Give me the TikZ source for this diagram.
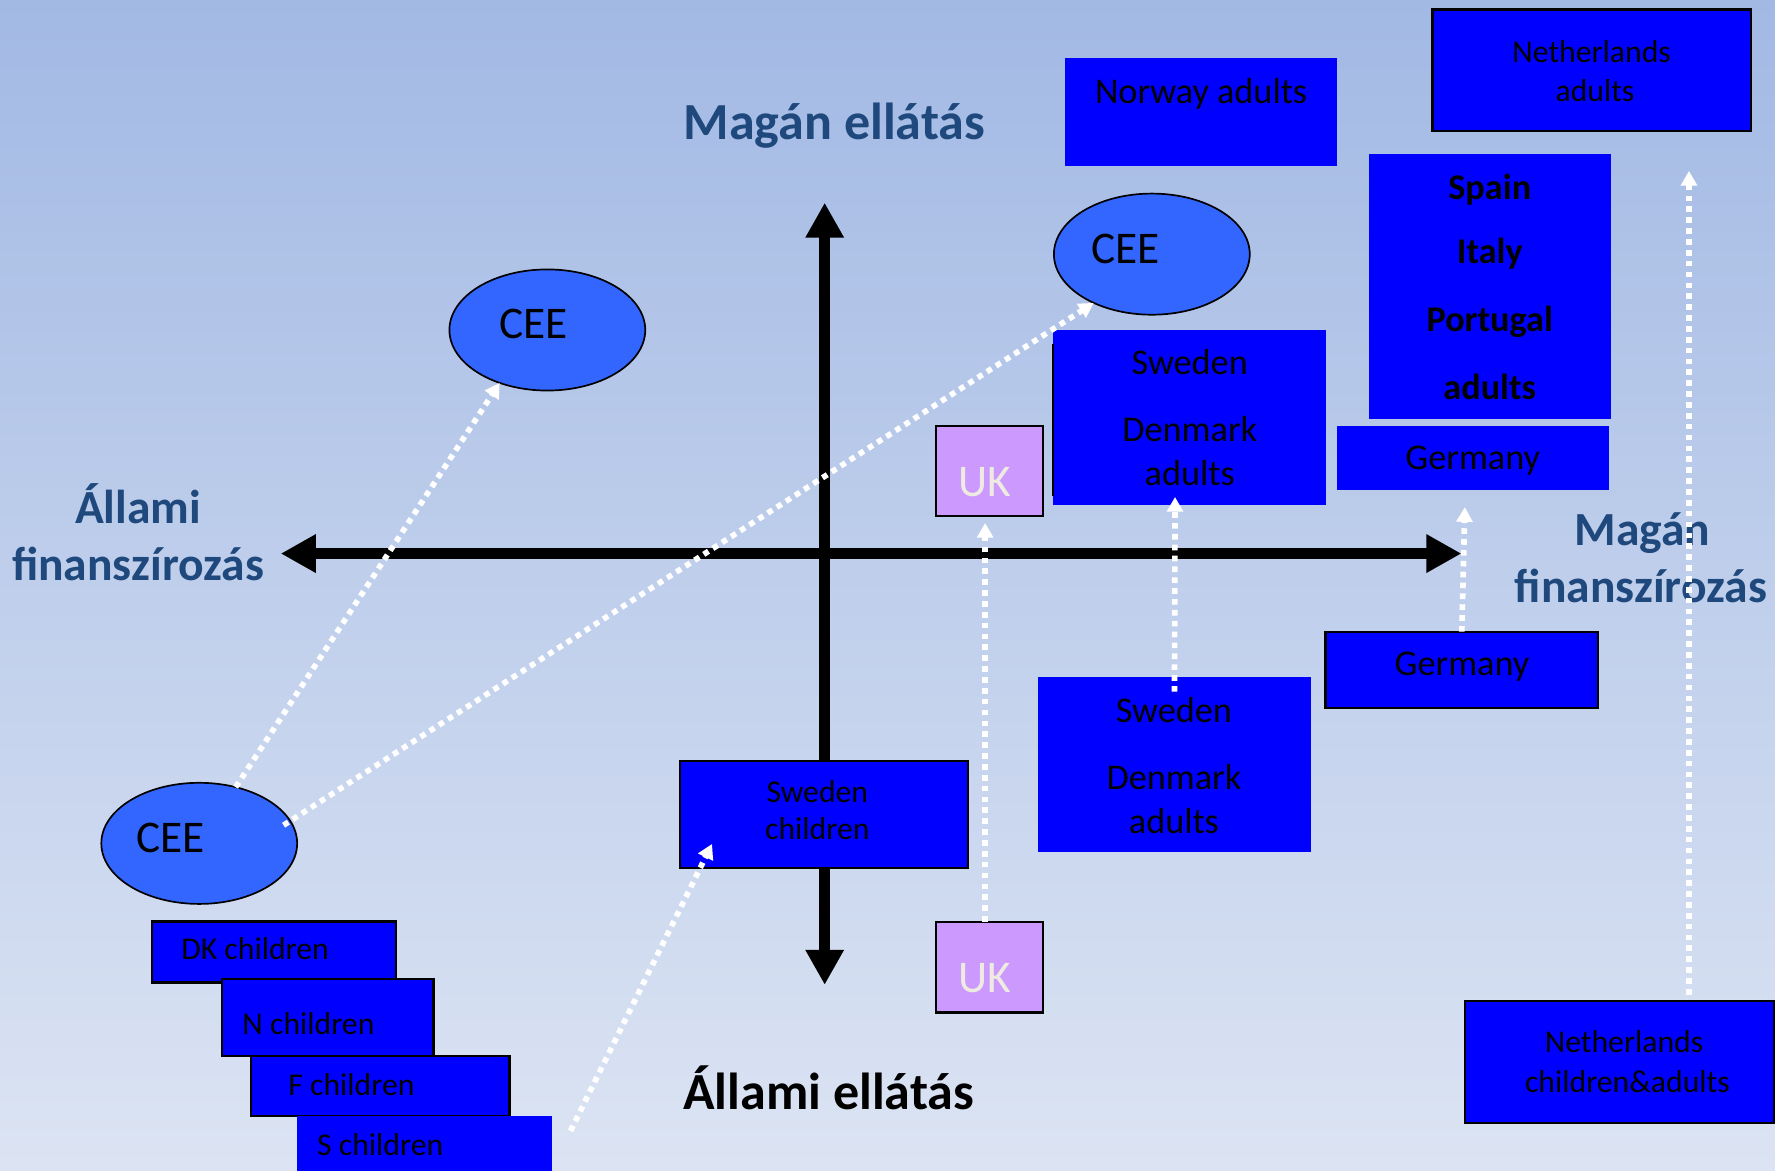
\documentclass[tikz,border=0pt]{standalone}
\usepackage{fontspec}
\setmainfont{Carlito}
\usetikzlibrary{arrows.meta,shapes.geometric}
\definecolor{bgtop}{RGB}{162,185,228}
\definecolor{bgbot}{RGB}{220,228,243}
\definecolor{axisblue}{RGB}{31,73,125}
\definecolor{boxblue}{RGB}{0,0,255}
\definecolor{ceeblue}{RGB}{51,102,255}
\definecolor{ukfill}{RGB}{204,153,255}
\definecolor{uktext}{RGB}{238,236,225}
\begin{document}
\begin{tikzpicture}[x=1pt,y=-1pt,
  box/.style={fill=boxblue, draw=none, inner sep=0pt, outer sep=0pt},
  bbox/.style={box, draw=black, line width=2pt},
  cee/.style={ellipse, fill=ceeblue, draw=black, line width=1.5pt, inner sep=0pt, outer sep=0pt, minimum width=173pt, minimum height=107pt},
  ukbox/.style={fill=ukfill, draw=black, line width=2pt, inner sep=0pt, outer sep=0pt, minimum width=94.5pt, minimum height=80pt},
  axisline/.style={line width=10pt, {Triangle[length=31pt,width=32pt]}-{Triangle[length=31pt,width=32pt]}},
  dotarr/.style={draw=white, line width=5pt, dash pattern=on 5pt off 4.6pt, -{Triangle[length=13pt,width=14pt]}},
  axlbl/.style={anchor=base, inner sep=0pt, text=axisblue, font=\fontsize{42}{50}\selectfont\bfseries},
  axlblbig/.style={axlbl, font=\fontsize{46}{54}\selectfont\bfseries},
  axlblk/.style={axlblbig, text=black},
  big/.style={anchor=base, inner sep=0pt, font=\fontsize{32}{38}\selectfont},
  bigb/.style={big, font=\fontsize{32}{38}\selectfont\bfseries},
  small/.style={anchor=base, inner sep=0pt, font=\fontsize{28}{34}\selectfont},
  smallw/.style={small, anchor=base west},
  ceetxt/.style={anchor=base, inner sep=0pt, font=\fontsize{40}{48}\selectfont},
  uktxt/.style={anchor=base, inner sep=0pt, text=uktext, font=\fontsize{40}{48}\selectfont},
]
% background
\fill[top color=bgtop, bottom color=bgbot] (0,0) rectangle (1568,1034);
\useasboundingbox (0,0) rectangle (1568,1034);

% axes
\coordinate (hl) at (248,489);
\coordinate (hr) at (1291,489);
\coordinate (vt) at (728.5,179);
\coordinate (vb) at (728.5,870);
\draw[axisline] (hl) -- (hr);
\draw[axisline] (vt) -- (vb);

% axis labels
\node[axlblbig] (magell) at (737,123.5) {Magán ellátás};
\node[axlblk] (allell) at (732,980) {Állami ellátás};
\node[axlbl] (allfin1) at (122,462) {Állami};
\node[axlbl] (allfin2) at (122,512.5) {finanszírozás};
\node[axlbl] (magfin1) at (1451,481.5) {Magán};
\node[axlbl] (magfin2) at (1449.5,532) {finanszírozás};

% ellipses
\node[cee] (ceeTL) at (483.5,291.5) {};
\node[cee] (ceeTR) at (1017.5,224.5) {};
\node[cee] (ceeBL) at (176,745) {};
\node[ceetxt] (ceeTLt) at (471.5,299) {CEE};
\node[ceetxt] (ceeTRt) at (994,232.5) {CEE};
\node[ceetxt] (ceeBLt) at (151,752.7) {CEE};

% boxes
\node[box, minimum width=240pt, minimum height=95.5pt] (norway) at (1061,99.25) {};
\node[bbox, minimum width=281.5pt, minimum height=107.5pt] (nlA) at (1406.25,62.25) {};
\node[box, minimum width=214pt, minimum height=234pt] (spain) at (1316,253) {};
\node[box, minimum width=240pt, minimum height=57pt] (geU) at (1301,404.5) {};
\node[box, minimum width=240.5pt, minimum height=155pt] (swU) at (1050.75,369) {};
\draw[black, line width=2pt] ([xshift=-0.5pt,yshift=-12pt]swU.north west) -- ([xshift=-0.5pt,yshift=8pt]swU.south west);
\node[ukbox] (ukU) at (874.25,416) {};
\node[bbox, minimum width=240.6pt, minimum height=67.5pt] (geL) at (1291.3,591.75) {};
\node[box, minimum width=241pt, minimum height=155pt] (swL) at (1037.5,675.5) {};
\node[ukbox] (ukL) at (874.25,854.3) {};
\node[bbox, minimum width=273pt, minimum height=108pt] (ncA) at (1430.5,938) {};
\node[bbox, minimum width=254pt, minimum height=95pt] (swc) at (728,719.5) {};
\node[bbox, minimum width=215pt, minimum height=54pt] (dk) at (242,841) {};
\node[bbox, minimum width=187pt, minimum height=67.6pt] (nch) at (289.5,898.8) {};
\node[bbox, minimum width=228pt, minimum height=53.4pt] (fch) at (336,959.3) {};
\node[box, minimum width=226pt, minimum height=50pt] (sch) at (375,1011) {};

% box texts
\node[big] (norwayt) at (1061,91) {Norway adults};
\node[small] (nlAt1) at (1406,54.8) {Netherlands};
\node[small] (nlAt2) at (1409,89.6) {adults};
\node[bigb] (spt1) at (1316,175.8) {Spain};
\node[bigb] (spt2) at (1316,233) {Italy};
\node[bigb] (spt3) at (1316,292.4) {Portugal};
\node[bigb] (spt4) at (1316,353) {adults};
\node[big] (geUt) at (1301,415) {Germany};
\node[big] (swUt1) at (1051,331) {Sweden};
\node[big] (swUt2) at (1051,390.4) {Denmark};
\node[big] (swUt3) at (1051,429.3) {adults};
\node[uktxt] (ukUt) at (869.5,438.8) {UK};
\node[big] (geLt) at (1291.5,597) {Germany};
\node[big] (swLt1) at (1037,638) {Sweden};
\node[big] (swLt2) at (1037,697) {Denmark};
\node[big] (swLt3) at (1037,736) {adults};
\node[uktxt] (ukLt) at (869.5,877) {UK};
\node[small] (ncAt1) at (1434.6,930) {Netherlands};
\node[small] (ncAt2) at (1437.6,965) {children\&adults};
\node[small] (swct1) at (722,708.6) {Sweden};
\node[small] (swct2) at (722,742) {children};
\node[smallw] (dkt) at (160,848) {DK children};
\node[smallw] (ncht) at (214,913.5) {N children};
\node[smallw] (fcht) at (254.6,968) {F children};
\node[smallw] (scht) at (280,1021) {S children};

% dotted arrows
\coordinate (cstart) at (504,999);
\draw[dotarr] (ceeBL.57) -- (ceeTL.228);
\draw[dotarr] ([xshift=-8pt]ceeBL.11) -- (ceeTR.220);
\draw[dotarr] (cstart) -- ([xshift=28pt,yshift=21.5pt]swc.south west);
\draw[dotarr] ([xshift=-4pt]ukL.north) -- ([xshift=-4pt,yshift=-6pt]ukU.south);
\draw[dotarr] ([yshift=-13pt]swL.north) -- ([xshift=-12.75pt,yshift=7.5pt]swU.south);
\draw[dotarr] (geL.north) -- ([xshift=-7pt,yshift=-15pt]geU.south);
\draw[dotarr] ([xshift=61.5pt,yshift=5.4pt]ncA.north) -- ([xshift=85.75pt,yshift=-35pt]nlA.south);
\end{tikzpicture}
\end{document}
